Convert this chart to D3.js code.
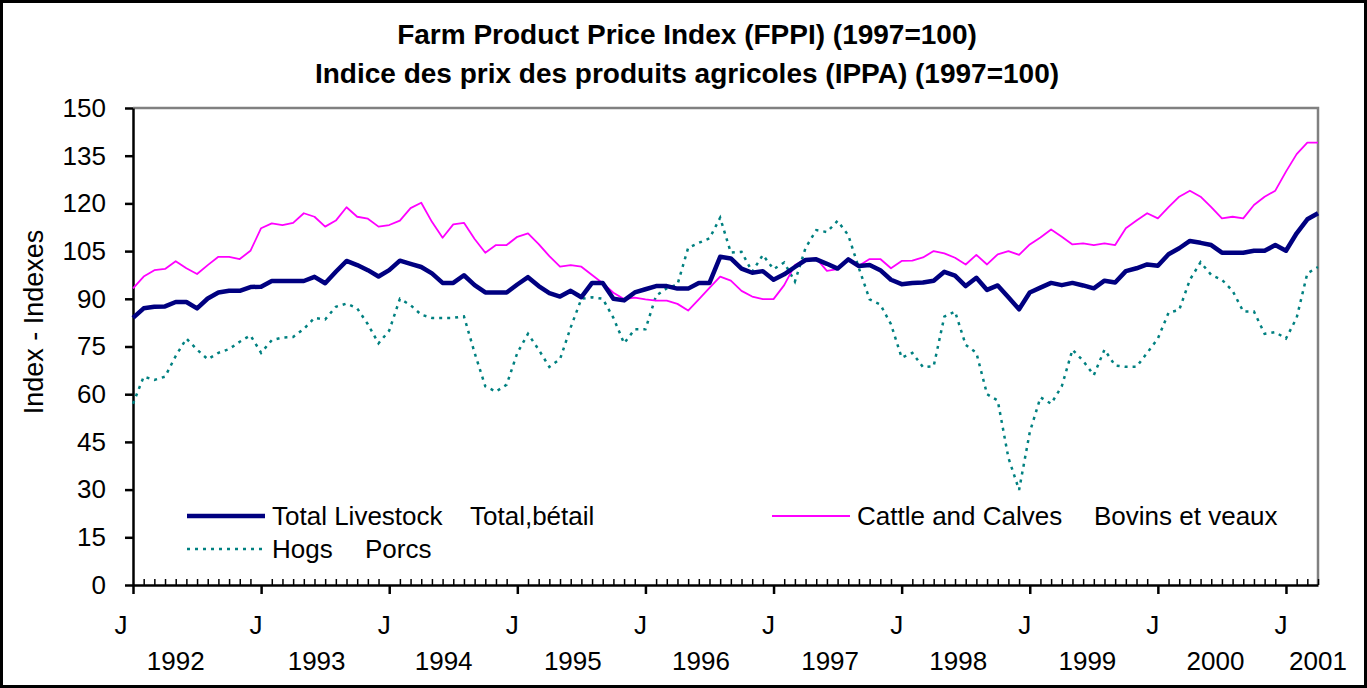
<!DOCTYPE html>
<html><head><meta charset="utf-8">
<script src="https://cdn.jsdelivr.net/npm/d3@7"></script>
<style>
html,body{margin:0;padding:0;background:#fff;}
svg{display:block;font-family:"Liberation Sans",Arial,sans-serif;}
</style></head>
<body>
<svg id="chart" width="1367" height="688"></svg>
<script>
// ---- data ----
const startYear = 1992;
const monthCount = 112; // Jan 1992 .. Apr 2001
const yearLabels = ["1992","1993","1994","1995","1996","1997","1998","1999","2000","2001"];
const yTicks = [0,15,30,45,60,75,90,105,120,135,150];

const totalLivestock = [
 84,87,87.5,87.6,89,89,87,90.1,92,92.5,92.5,93.7,
 93.8,95.6,95.6,95.6,95.6,96.9,94.9,98.5,101.9,100.6,99,97,
 99,102,101,100,98,95,95,97.4,94.3,92,92,92,
 94.5,96.8,94,91.8,90.7,92.5,90.5,95,95,90,89.5,92,
 93,94,94,93.2,93.2,95,95,103.2,102.7,99.5,98.2,98.7,
 96,97.7,100,102.2,102.4,101,99.5,102.4,100.3,100.6,99,96,
 94.6,95,95.1,95.7,98.5,97.3,94,96.6,92.8,94.2,90.5,86.7,
 92,93.5,95,94.3,95,94.2,93.3,95.7,95.1,98.7,99.6,100.8,
 100.4,104,105.9,108.2,107.6,106.9,104.5,104.5,104.5,105.1,105.1,106.9,
 105.1,110.6,115,116.9];

const cattleCalves = [
 93.3,97,99,99.4,101.8,99.6,97.8,100.6,103.2,103.2,102.5,105.1,
 112.2,113.7,113.2,113.9,116.9,115.8,112.7,114.6,118.8,115.8,115.2,112.7,
 113.2,114.6,118.5,120.2,114.2,109.2,113.4,113.9,108.8,104.5,106.9,106.9,
 109.5,110.6,107.2,103.4,100.1,100.6,100.1,97.5,94.9,91.9,89.9,90.4,
 89.8,89.4,89.4,88.4,86.3,89.8,93.4,97,95.7,92.5,90.7,89.9,
 89.9,94.3,100.6,102.4,102.7,98.8,99.3,102.4,100.4,102.5,102.5,99.6,
 101.9,102,103,105,104.3,102.9,100.8,103.8,100.8,104,105,103.8,
 107.1,109.3,111.8,109.5,107.1,107.4,106.9,107.4,106.9,112.2,114.6,116.9,
 115.3,118.8,122.1,124,122.1,118.8,115.3,115.8,115.3,119.5,122.1,124,
 130,135.5,139.1,139.1];

const hogs = [
 57,65.5,64.5,65.5,72,77.5,74,71,73,74.2,76.5,78.5,
 73,77,77.8,78,80.5,84,83.5,87.5,88.5,87,82,76,
 80,90,88,85,84,84,84,84.5,73,62.5,60.8,63,
 73,79,74,68.6,71,81,90,90.5,90,84,76,80.4,
 80.4,91,93.3,94.5,106,107.6,109,115.5,104.5,104.8,98.5,103.8,
 99.3,101.4,95.4,106,111.6,111,114.5,110,99.6,89.8,88.2,82,
 71.5,73,68.5,68.8,84.4,86,75.5,73,60,58,40,29.9,
 48,59,57,62.5,74,70.5,66,74,69,68.6,68.6,73,
 77.5,85.6,86.5,96,101.5,97.5,96,92.5,86,86,79,79.5,
 77.5,84,98,100];

// ---- layout ----
const W = 1367, H = 688;
const plot = {left:133, right:1318, top:108, bottom:585};
const FS = 26;
// year label positions in month-index units
const yearLabelPos = [4,17.2,29.1,41.2,53.2,65.3,77.3,89.4,101.4,111];

const svg = d3.select("#chart");
const x = d3.scaleLinear().domain([0, monthCount-1]).range([plot.left, plot.right]);
const y = d3.scaleLinear().domain([0,150]).range([plot.bottom, plot.top]);

// outer border
svg.append("rect").attr("x",1.5).attr("y",1.5).attr("width",W-3).attr("height",H-3)
  .attr("fill","#fff").attr("stroke","#000").attr("stroke-width",3);

// plot frame (gray top/right)
svg.append("path")
  .attr("d",`M${plot.left},${plot.top}H${plot.right}V${plot.bottom}`)
  .attr("fill","none").attr("stroke","#808080").attr("stroke-width",2.5);

// titles
svg.append("text").attr("x",687).attr("y",44).attr("text-anchor","middle")
  .attr("font-weight","bold").attr("font-size",28)
  .text("Farm Product Price Index (FPPI) (1997=100)");
svg.append("text").attr("x",687).attr("y",83).attr("text-anchor","middle")
  .attr("font-weight","bold").attr("font-size",28)
  .text("Indice des prix des produits agricoles (IPPA) (1997=100)");

// y axis
const yAxis = d3.axisLeft(y).tickValues(yTicks).tickSize(8).tickSizeOuter(0).tickPadding(19);
const gy = svg.append("g").attr("transform",`translate(${plot.left},0)`).call(yAxis);
gy.select(".domain").attr("stroke","#000").attr("stroke-width",2.5);
gy.selectAll(".tick line").attr("stroke","#000").attr("stroke-width",2.5);
gy.selectAll(".tick text").attr("font-size",FS).attr("fill","#000")
  .attr("font-family","Liberation Sans, Arial, sans-serif");

svg.append("text").attr("transform","translate(43,322) rotate(-90)")
  .attr("text-anchor","middle").attr("font-size",27).text("Index - Indexes");

// x axis: minor monthly ticks (upward), major January ticks (downward)
const months = d3.range(monthCount);
const janIdx = months.filter(i => i % 12 === 0);
const xMinor = d3.axisBottom(x).tickValues(months.filter(i=>i%12!==0)).tickSize(-6).tickFormat("").tickSizeOuter(0);
const gxm = svg.append("g").attr("transform",`translate(0,${plot.bottom})`).call(xMinor);
gxm.select(".domain").attr("stroke","#000").attr("stroke-width",2.5);
gxm.selectAll(".tick line").attr("stroke","#000").attr("stroke-width",1.5);
const xMajor = d3.axisBottom(x).tickValues(janIdx).tickSize(9).tickFormat("").tickSizeOuter(0);
const gxj = svg.append("g").attr("transform",`translate(0,${plot.bottom})`).call(xMajor);
gxj.select(".domain").remove();
gxj.selectAll(".tick line").attr("stroke","#000").attr("stroke-width",2.5);

svg.append("g").selectAll("text").data(janIdx).join("text")
  .attr("x",(d,i)=> x(d) - (i===0?12:5)).attr("y",634).attr("text-anchor","middle")
  .attr("font-size",FS).text("J");
svg.append("g").selectAll("text").data(yearLabels).join("text")
  .attr("x",(d,i)=> x(yearLabelPos[i])).attr("y",670).attr("text-anchor","middle")
  .attr("font-size",FS).text(d=>d);

// series
const line = d3.line().x((d,i)=>x(i)).y(d=>y(d));
svg.append("path").datum(hogs).attr("d",line).attr("fill","none")
  .attr("stroke","#008080").attr("stroke-width",2.5).attr("stroke-dasharray","3,5");
svg.append("path").datum(cattleCalves).attr("d",line).attr("fill","none")
  .attr("stroke","#FF00FF").attr("stroke-width",1.8).attr("stroke-linejoin","round");
svg.append("path").datum(totalLivestock).attr("d",line).attr("fill","none")
  .attr("stroke","#000080").attr("stroke-width",4.5).attr("stroke-linejoin","round");

// legend
const lg = svg.append("g");
function legendItem(x0,y0,color,width,dash,label1,label2,x2){
  lg.append("line").attr("x1",x0).attr("x2",x0+78).attr("y1",y0).attr("y2",y0)
    .attr("stroke",color).attr("stroke-width",width).attr("stroke-dasharray",dash);
  lg.append("text").attr("x",x0+85).attr("y",y0+9).attr("font-size",FS).text(label1);
  lg.append("text").attr("x",x2).attr("y",y0+9).attr("font-size",FS).text(label2);
}
legendItem(187,516,"#000080",4.5,null,"Total Livestock","Total,bétail",470);
legendItem(772,516,"#FF00FF",1.8,null,"Cattle and Calves","Bovins et veaux",1094);
legendItem(187,549,"#008080",2.5,"3,5","Hogs","Porcs",365);
</script>
</body></html>
